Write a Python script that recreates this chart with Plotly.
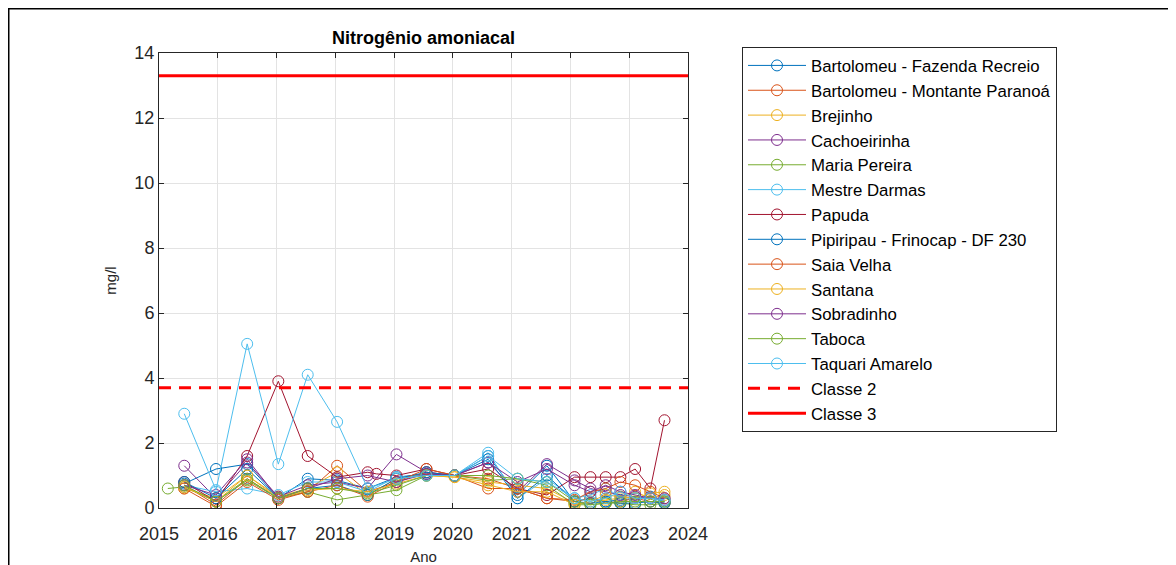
import plotly.graph_objects as go

# ---- data ----
DATES = [2015.43, 2015.97, 2016.5, 2017.03, 2017.53, 2018.03, 2018.55, 2019.04, 2019.55,
         2020.03, 2020.6, 2021.1, 2021.6, 2022.07, 2022.34, 2022.6, 2022.85, 2023.1,
         2023.36, 2023.6]
DATES_MARIA = [2015.15] + DATES
DATES_PAPUDA = DATES[:7] + [2018.7] + DATES[7:]

bartolomeu_fr = [0.75, 1.2, 1.35, 0.3, 0.9, 0.85, 0.6, 0.95, 1.05, 1.0, 1.6, 0.4, 1.3, 0.2, 0.3, 0.2, 0.25, 0.3, 0.35, 0.2]
bartolomeu_mp = [0.7, 0.1, 0.9, 0.3, 0.5, 1.3, 0.5, 0.8, 1.1, 1.0, 0.9, 0.6, 0.3, 0.2, 0.3, 0.15, 0.2, 0.3, 0.2, 0.15]
brejinho = [0.6, 0.3, 1.0, 0.35, 0.6, 1.1, 0.4, 0.9, 1.0, 0.95, 0.8, 0.7, 0.6, 0.15, 0.15, 0.25, 0.3, 0.5, 0.3, 0.4]
cachoeirinha = [1.3, 0.3, 1.4, 0.35, 0.7, 0.8, 0.6, 1.65, 1.1, 1.0, 1.4, 0.5, 1.35, 0.85, 0.6, 0.5, 0.4, 0.35, 0.3, 0.25]
maria_pereira = [0.6, 0.65, 0.2, 0.9, 0.3, 0.5, 0.25, 0.4, 0.55, 1.0, 1.0, 0.85, 0.9, 0.7, 0.1, 0.1, 0.15, 0.15, 0.1, 0.1, 0.15]
mestre_darmas = [0.7, 0.5, 0.6, 0.4, 0.8, 0.8, 0.5, 0.95, 1.0, 1.0, 1.7, 0.3, 0.9, 0.3, 0.4, 0.6, 0.35, 0.3, 0.3, 0.2]
papuda = [0.8, 0.2, 1.6, 3.9, 1.6, 0.95, 1.1, 1.05, 1.0, 1.2, 1.0, 1.2, 0.6, 0.4, 0.95, 0.95, 0.95, 0.95, 1.2, 0.6, 2.7]
pipiripau = [0.8, 0.3, 1.2, 0.3, 0.6, 0.7, 0.4, 0.9, 1.1, 1.0, 1.5, 0.3, 1.0, 0.2, 0.15, 0.2, 0.15, 0.15, 0.2, 0.15]
saia_velha = [0.6, 0.05, 0.8, 0.25, 0.5, 0.7, 0.35, 0.8, 1.2, 1.0, 0.6, 0.6, 0.3, 0.25, 0.5, 0.6, 0.8, 0.7, 0.5, 0.3]
santana = [0.65, 0.2, 1.0, 0.3, 0.55, 0.6, 0.5, 0.75, 1.0, 0.95, 0.7, 0.5, 0.5, 0.1, 0.2, 0.4, 0.35, 0.3, 0.45, 0.5]
sobradinho = [0.7, 0.4, 1.5, 0.3, 0.6, 0.9, 1.0, 0.8, 1.05, 1.0, 1.4, 0.8, 1.2, 0.7, 0.5, 0.7, 0.5, 0.4, 0.3, 0.3]
taboca = [0.7, 0.2, 0.85, 0.3, 0.6, 0.6, 0.45, 0.7, 1.0, 1.0, 1.0, 0.9, 0.8, 0.2, 0.1, 0.15, 0.2, 0.2, 0.2, 0.2]
taquari = [2.9, 0.55, 5.05, 1.35, 4.1, 2.65, 0.6, 0.9, 1.0, 1.0, 1.6, 0.9, 0.8, 0.3, 0.2, 0.3, 0.5, 0.3, 0.3, 0.25]

SERIES_NAMES = ["Bartolomeu - Fazenda Recreio", "Bartolomeu - Montante Paranoá", "Brejinho",
                "Cachoeirinha", "Maria Pereira", "Mestre Darmas", "Papuda",
                "Pipiripau - Frinocap - DF 230", "Saia Velha", "Santana", "Sobradinho",
                "Taboca", "Taquari Amarelo"]
SERIES_VALUES = [bartolomeu_fr, bartolomeu_mp, brejinho, cachoeirinha, maria_pereira,
                 mestre_darmas, papuda, pipiripau, saia_velha, santana, sobradinho,
                 taboca, taquari]
SERIES_DATES = [DATES, DATES, DATES, DATES, DATES_MARIA, DATES, DATES_PAPUDA, DATES,
                DATES, DATES, DATES, DATES, DATES]

CLASSE2 = 3.7
CLASSE3 = 13.3
X_RANGE = [2015, 2024]
X_TICKS = list(range(2015, 2025))
Y_TICKS = list(range(0, 15, 2))

COLORS = ["#0072BD", "#D95319", "#EDB120", "#7E2F8E", "#77AC30", "#4DBEEE", "#A2142F"]

FONT = "Liberation Sans, Arial, sans-serif"

fig = go.Figure()
for i, (name, xs, ys) in enumerate(zip(SERIES_NAMES, SERIES_DATES, SERIES_VALUES)):
    c = COLORS[i % len(COLORS)]
    fig.add_trace(go.Scatter(
        x=xs, y=ys, name=name, mode="lines+markers",
        line=dict(color=c, width=1),
        marker=dict(symbol="circle-open", size=11, color=c, line=dict(width=1, color=c)),
    ))

fig.add_trace(go.Scatter(x=X_RANGE, y=[CLASSE2, CLASSE2], name="Classe 2", mode="lines",
                         line=dict(color="#FF0000", width=3, dash="12px,8px")))
fig.add_trace(go.Scatter(x=X_RANGE, y=[CLASSE3, CLASSE3], name="Classe 3", mode="lines",
                         line=dict(color="#FF0000", width=3)))

# page has an 8px body margin: figure is placed at (8, 8) in the window
OFF = 8
W, H = 1176 - OFF, 565 - OFF
L, R, T, B = 159 - OFF, 688 - OFF, 53 - OFF, 508 - OFF

axis_common = dict(
    showline=True, linecolor="#262626", linewidth=1, mirror="ticks",
    ticks="inside", ticklen=5, tickcolor="#262626",
    showgrid=True, gridcolor="#E3E3E3", gridwidth=1, zeroline=False,
    tickfont=dict(family=FONT, size=18, color="#262626"),
    automargin=False,
)

fig.update_layout(
    width=W, height=H,
    margin=dict(l=L, r=W - R, t=T, b=H - B, pad=0, autoexpand=False),
    paper_bgcolor="white", plot_bgcolor="white",
    font=dict(family=FONT, color="#262626"),
    title=dict(text="<b>Nitrogênio amoniacal</b>", x=(L + R) / 2 / W, xanchor="center",
               y=1 - (38 - OFF) / H, yanchor="middle", yref="container", xref="container",
               font=dict(family=FONT, size=18, color="#000000")),
    xaxis=dict(range=X_RANGE, tickvals=X_TICKS, ticktext=[str(t) for t in X_TICKS],
               ticklabelstandoff=9,
               title=dict(text="Ano", font=dict(size=15, family=FONT), standoff=8),
               **axis_common),
    yaxis=dict(range=[0, 14], tickvals=Y_TICKS, ticktext=[str(t) for t in Y_TICKS],
               title=dict(text="mg/l", font=dict(size=15, family=FONT), standoff=14),
               **axis_common),
    legend=dict(x=(742 - OFF - L) / (R - L), y=(B - (47 - OFF)) / (B - T),
                xanchor="left", yanchor="top",
                bordercolor="#262626", borderwidth=1, bgcolor="white",
                font=dict(family=FONT, size=16.8, color="#000000"),
                itemwidth=58, tracegroupgap=0, maxheight=520),
    showlegend=True,
    shapes=[dict(type="rect", xref="paper", yref="paper",
                 x0=(0 - L) / (R - L), x1=(W + 20 - L) / (R - L),
                 y0=(B - (H + 40)) / (B - T), y1=(B - 0) / (B - T),
                 line=dict(color="black", width=3), fillcolor="rgba(0,0,0,0)", layer="below")],
)

fig.write_html("out.html")
